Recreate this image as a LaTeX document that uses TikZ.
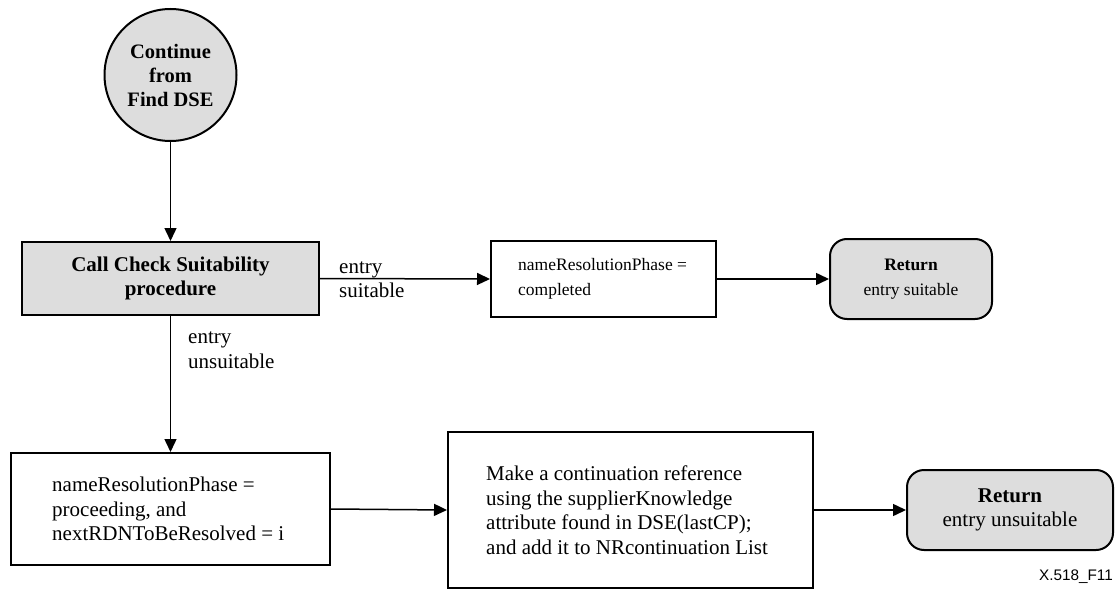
\documentclass[tikz,border=0pt]{standalone}
\usepackage{fontspec}
\setmainfont{Liberation Serif}
\newfontfamily\labelfont{Liberation Sans}
\usetikzlibrary{arrows.meta}
\definecolor{boxgray}{RGB}{221,221,221}
\begin{document}
\begin{tikzpicture}[x=1pt,y=-1pt,
  frame/.style={draw=black, line width=2pt, inner sep=0pt, rectangle},
  grayframe/.style={frame, fill=boxgray},
  retbox/.style={grayframe, rounded corners=17pt},
  bigtxt/.style={font=\fontsize{21}{24.5}\selectfont, align=left, inner sep=0pt},
  smalltxt/.style={font=\fontsize{17.5}{24.5}\selectfont, align=left, inner sep=0pt},
  flow/.style={line width=1.5pt, -{Triangle[length=13pt,width=12pt]}},
  edgelbl/.style={font=\fontsize{21}{24.5}\selectfont, align=left, inner sep=0pt, anchor=west}
]
\useasboundingbox (0,0) rectangle (1118,596);

% start circle
\node[circle, draw=black, line width=2pt, fill=boxgray, minimum size=132pt, inner sep=0pt,
      align=center, font=\fontsize{20.5}{24}\selectfont\bfseries] (start) at (170.5,75) {Continue\\from\\Find DSE};

% first row
\node[grayframe, minimum width=297pt, minimum height=73pt, align=center,
      font=\fontsize{21}{24.5}\selectfont\bfseries] (call) at (170.5,278.5) {Call Check Suitability\\procedure};

\node[frame, minimum width=225pt, minimum height=76pt] (done) at (603.5,279) {};
\node[smalltxt, anchor=west] (donetxt) at ([xshift=28pt]done.west) {nameResolutionPhase =\\completed};

\node[retbox, minimum width=162pt, minimum height=80pt, align=center,
      font=\fontsize{17.5}{24.5}\selectfont] (ret1) at (911,279) {\textbf{Return}\\entry suitable};

% second row
\node[frame, minimum width=319pt, minimum height=112pt] (proc) at (170.5,509) {};
\node[bigtxt, anchor=west] (proctxt) at ([xshift=42pt]proc.west) {nameResolutionPhase =\\proceeding, and\\nextRDNToBeResolved = i};

\node[frame, minimum width=365pt, minimum height=156pt] (cref) at (630.5,510) {};
\node[bigtxt, anchor=west] (creftxt) at ([xshift=39pt]cref.west) {Make a continuation reference\\using the supplierKnowledge\\attribute found in DSE(lastCP);\\and add it to NRcontinuation List};

\node[retbox, minimum width=206pt, minimum height=80pt, align=center,
      font=\fontsize{21}{24.5}\selectfont] (ret2) at (1010,510) {\textbf{Return}\\entry unsuitable};

% connectors
\draw[flow] (start.south) -- (call.north);
\draw[flow] (call.east) -- (done.west);
\draw[flow] (done.east) -- (ret1.west);
\draw[flow] (call.south) -- (proc.north);
\draw[flow] (proc.east) -- (cref.west);
\draw[flow] (cref.east) -- (ret2.west);

% edge labels
\node[edgelbl] (lsuit) at (339,279.5) {entry\\suitable};
\node[edgelbl] (lunsuit) at (188,350) {entry\\unsuitable};

% figure id
\node[font=\labelfont\fontsize{15.3}{18}\selectfont, inner sep=0pt, anchor=east] (figid) at (1113,577) {X.518\_F11};
\end{tikzpicture}
\end{document}
